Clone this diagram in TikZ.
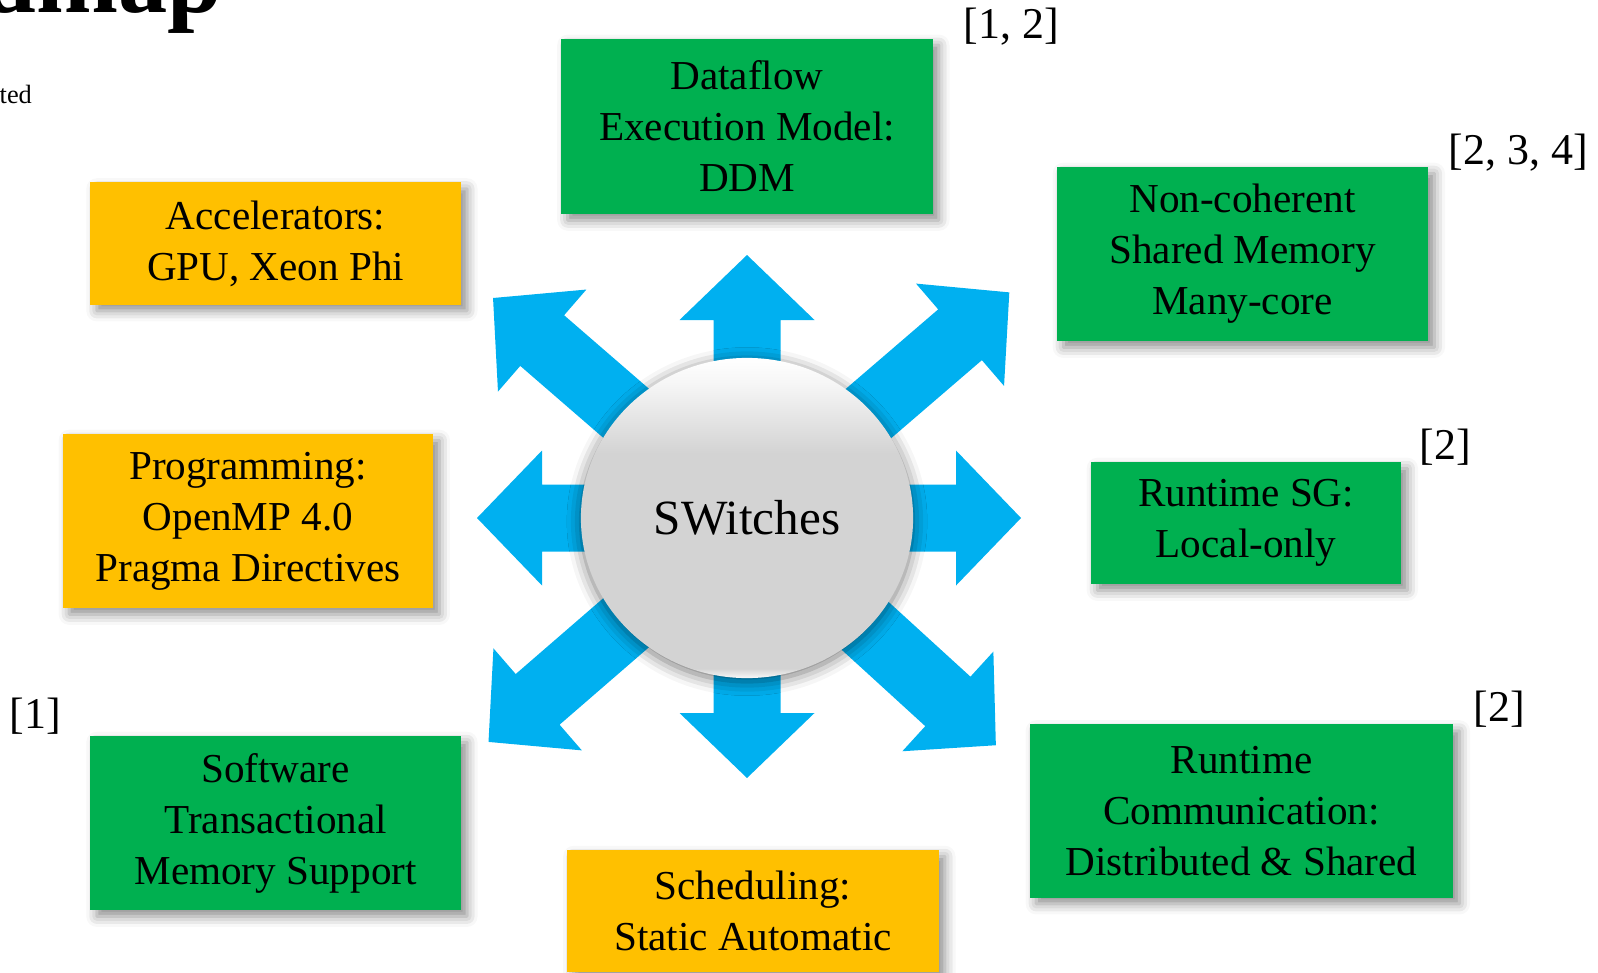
\documentclass[tikz,border=0pt]{standalone}
\usepackage{fontspec}
\setmainfont{Liberation Serif}
\usetikzlibrary{shapes.geometric,shadows.blur}

\definecolor{swgreen}{HTML}{00B050}
\definecolor{swgold}{HTML}{FFC000}
\definecolor{swblue}{HTML}{00B0F0}
\definecolor{knobgray}{HTML}{D3D3D3}

% gray knob, bright top, thin light rim at the bottom
\pgfdeclareverticalshading{knob}{100bp}{color(0bp)=(white); color(25bp)=(white!85!knobgray); color(26.5bp)=(knobgray); color(60bp)=(knobgray); color(71bp)=(white!80!knobgray); color(75bp)=(white); color(100bp)=(white)}

\begin{document}
\begin{tikzpicture}[x=0.01cm, y=0.01cm,
  box/.style={align=center, inner sep=0pt, font=\fontsize{11.7}{14.5}\selectfont,
    blur shadow={shadow xshift=1.8pt, shadow yshift=-1.8pt, shadow blur radius=3pt, shadow opacity=45}},
  greenbox/.style={box, fill=swgreen},
  goldbox/.style={box, fill=swgold},
  cite/.style={inner sep=0pt, font=\fontsize{12.5}{14}\selectfont}]
\useasboundingbox (0,0) rectangle (1598,972);
%heading
\node[anchor=base east, inner sep=0pt, font=\fontsize{28}{30}\bfseries\selectfont] (ttl) at (223,959) {Roadmap};
\node[anchor=base west, inner sep=0pt, font=\fontsize{7.5}{9}\selectfont] (sub) at (-1,868) {ted};
%arrows out of the hub
\coordinate (hub) at (747,454);
\foreach \ang/\len in {90/263, 270/260, 0/274, 180/270, 40.7/346, 139.1/336, 220.9/342, 317.6/337}
  \fill[swblue, shift={(hub)}, rotate=\ang] (0,-33.5) -- ({\len-65},-33.5) -- ({\len-65},-67.5) -- (\len,0)
    -- ({\len-65},67.5) -- ({\len-65},33.5) -- (0,33.5) -- cycle;
\node[ellipse, minimum width=3.32cm, minimum height=3.20cm, inner sep=0pt, shading=knob,
  blur shadow={shadow xshift=0pt, shadow yshift=-1pt, shadow blur radius=4pt, shadow opacity=55},
  font=\fontsize{14}{17}\selectfont] (sw) at (hub) {SWitches};
%green boxes
\node[greenbox, minimum width=3.71cm, minimum height=1.75cm] (ddm) at (747,845.6) {Dataflow\\Execution Model:\\DDM};
\node[greenbox, minimum width=3.71cm, minimum height=1.74cm] (ncsm) at (1242.5,718) {Non-coherent\\Shared Memory\\Many-core};
\node[greenbox, minimum width=3.10cm, minimum height=1.22cm] (rtsg) at (1246,449) {Runtime SG:\\Local-only};
\node[greenbox, minimum width=4.23cm, minimum height=1.73cm] (comm) at (1241.5,161) {Runtime\\Communication:\\Distributed \& Shared};
\node[greenbox, minimum width=3.70cm, minimum height=1.74cm] (stm) at (275.6,149) {Software\\Transactional\\Memory Support};
%gold boxes
\node[goldbox, minimum width=3.70cm, minimum height=1.22cm] (acc) at (275.6,728.5) {Accelerators:\\GPU, Xeon Phi};
\node[goldbox, minimum width=3.70cm, minimum height=1.74cm] (prog) at (248,451) {Programming:\\OpenMP 4.0\\Pragma Directives};
\node[goldbox, minimum width=3.71cm, minimum height=1.22cm] (sched) at (753,61) {Scheduling:\\Static Automatic};
%references
\node[cite] (c12) at (1011.5,945) {[1, 2]};
\node[cite] (c234) at (1518.5,819) {[2, 3, 4]};
\node[cite] (c2a) at (1445.5,525) {[2]};
\node[cite] (c1) at (35.5,256) {[1]};
\node[cite] (c2b) at (1499.5,263) {[2]};
\end{tikzpicture}
\end{document}
